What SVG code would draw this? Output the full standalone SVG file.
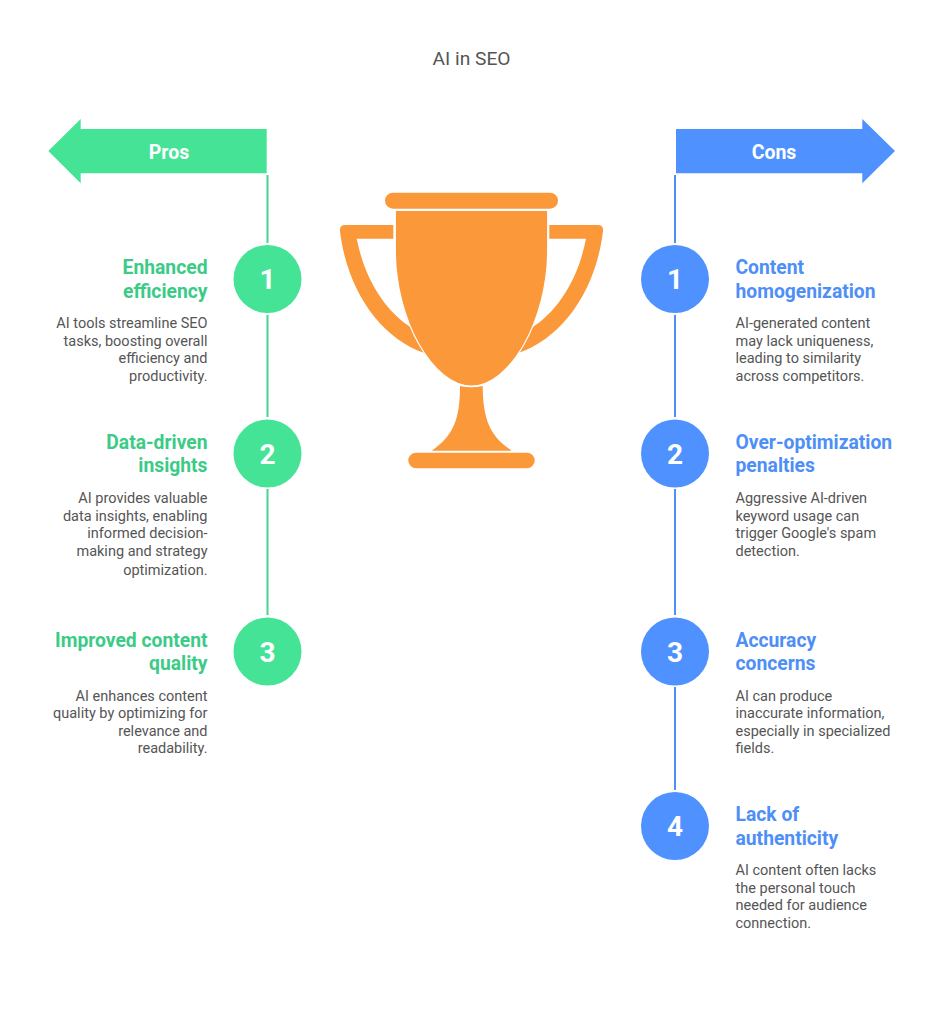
<svg xmlns="http://www.w3.org/2000/svg" width="943" height="1024" viewBox="0 0 943 1024">
<style>
text{font-family:Roboto,"Liberation Sans",sans-serif}
.title{font-size:19.2px;fill:#555;text-anchor:middle}
.hd{font-size:19.5px;font-weight:700;fill:#fff;text-anchor:middle}
.num{font-size:28px;font-weight:700;fill:#fff;text-anchor:middle}
.h{font-size:19.3px;font-weight:700}
.b{font-size:14.5px;fill:#555}
.l .h,.l .b{text-anchor:end}
.gh{fill:#3CCB87}
.bh{fill:#4E8FF7}
.g{fill:#45E396}
.u{fill:#4E91FF}
.o{fill:#FB983A}
.cup{stroke:#fff;stroke-width:1.2}
.cg{stroke:#45D592;stroke-width:2;fill:none}
.cb{stroke:#4E91F5;stroke-width:2;fill:none}
</style>
<rect width="943" height="1024" fill="#fff"/>
<text id="title" class="title" x="471.500" y="64.500">AI in SEO</text>
<g id="connectors">
<path class="cg" d="M267.500 175V243M267.500 315V417M267.500 489V615"/>
<path class="cb" d="M675 175V243M675 315V417M675 489V615M675 687V790"/>
</g>
<g id="arrow-pros"><polygon class="g" points="266.700,129 80.700,129 80.700,119 48.300,151 80.700,183.300 80.700,173.300 266.700,173.300"/><text class="hd" x="169" y="158.500">Pros</text></g>
<g id="arrow-cons"><polygon class="u" points="676,129 862.300,129 862.300,119 895,151 862.300,183.300 862.300,173.300 676,173.300"/><text class="hd" x="774" y="158.500">Cons</text></g>
<g id="trophy">
<rect class="o" x="385" y="192.700" width="173" height="16" rx="8"/>
<path class="o" d="M393.300 225H345Q339.500 225 340 231C347 290 380 338 425 353.300L412.300 328.300C385 311 365 280 356.700 238.700H393.300Z"/>
<path class="o" d="M549.300 225H598Q603.500 225 603 231C596 290 563 338 517.700 353.300L531 328.300C558 311 578 280 586 238.700H549.300Z"/>
<path class="o" d="M460 386Q471.500 388.500 482.700 386C483 420 490 436 511.700 450.700H431.700C453 436 460 420 460 386Z"/>
<path class="o cup" d="M395.300 210.300H547.700V250C547.700 320 510 386 471.500 386C433 386 395.300 320 395.300 250Z"/>
<rect class="o" x="408.300" y="452.700" width="126.400" height="15.600" rx="7.800"/>
</g>
<g id="pro-1" class="l"><circle class="g" cx="267.500" cy="279" r="34"/><text class="num" x="267.500" y="289">1</text><text class="h gh" x="207.500" y="274.400">Enhanced</text><text class="h gh" x="207.500" y="297.700">efficiency</text><text class="b" x="207.500" y="328">AI tools streamline SEO</text><text class="b" x="207.500" y="345.500">tasks, boosting overall</text><text class="b" x="207.500" y="363">efficiency and</text><text class="b" x="207.500" y="380.500">productivity.</text></g>
<g id="pro-2" class="l"><circle class="g" cx="267.500" cy="453.500" r="34"/><text class="num" x="267.500" y="463.500">2</text><text class="h gh" x="207.500" y="448.800">Data-driven</text><text class="h gh" x="207.500" y="472.200">insights</text><text class="b" x="207.500" y="503">AI provides valuable</text><text class="b" x="207.500" y="520.500">data insights, enabling</text><text class="b" x="207.500" y="538">informed decision-</text><text class="b" x="207.500" y="555.500">making and strategy</text><text class="b" x="207.500" y="575">optimization.</text></g>
<g id="pro-3" class="l"><circle class="g" cx="267.500" cy="651.500" r="34"/><text class="num" x="267.500" y="661.500">3</text><text class="h gh" x="207.500" y="646.800">Improved content</text><text class="h gh" x="207.500" y="670.200">quality</text><text class="b" x="207.500" y="700.500">AI enhances content</text><text class="b" x="207.500" y="718">quality by optimizing for</text><text class="b" x="207.500" y="735.500">relevance and</text><text class="b" x="207.500" y="753">readability.</text></g>
<g id="con-1"><circle class="u" cx="675" cy="279" r="34"/><text class="num" x="675" y="289">1</text><text class="h bh" x="735.500" y="274.400">Content</text><text class="h bh" x="735.500" y="297.700">homogenization</text><text class="b" x="735.500" y="328">AI-generated content</text><text class="b" x="735.500" y="345.500">may lack uniqueness,</text><text class="b" x="735.500" y="363">leading to similarity</text><text class="b" x="735.500" y="380.500">across competitors.</text></g>
<g id="con-2"><circle class="u" cx="675" cy="453.500" r="34"/><text class="num" x="675" y="463.500">2</text><text class="h bh" x="735.500" y="448.800">Over-optimization</text><text class="h bh" x="735.500" y="472.200">penalties</text><text class="b" x="735.500" y="503">Aggressive AI-driven</text><text class="b" x="735.500" y="520.500">keyword usage can</text><text class="b" x="735.500" y="538">trigger Google's spam</text><text class="b" x="735.500" y="555.500">detection.</text></g>
<g id="con-3"><circle class="u" cx="675" cy="651.500" r="34"/><text class="num" x="675" y="661.500">3</text><text class="h bh" x="735.500" y="646.800">Accuracy</text><text class="h bh" x="735.500" y="670.200">concerns</text><text class="b" x="735.500" y="700.500">AI can produce</text><text class="b" x="735.500" y="718">inaccurate information,</text><text class="b" x="735.500" y="735.500">especially in specialized</text><text class="b" x="735.500" y="753">fields.</text></g>
<g id="con-4"><circle class="u" cx="675" cy="826" r="34"/><text class="num" x="675" y="836">4</text><text class="h bh" x="735.500" y="821">Lack of</text><text class="h bh" x="735.500" y="844.500">authenticity</text><text class="b" x="735.500" y="875">AI content often lacks</text><text class="b" x="735.500" y="892.500">the personal touch</text><text class="b" x="735.500" y="910">needed for audience</text><text class="b" x="735.500" y="927.500">connection.</text></g>
</svg>
